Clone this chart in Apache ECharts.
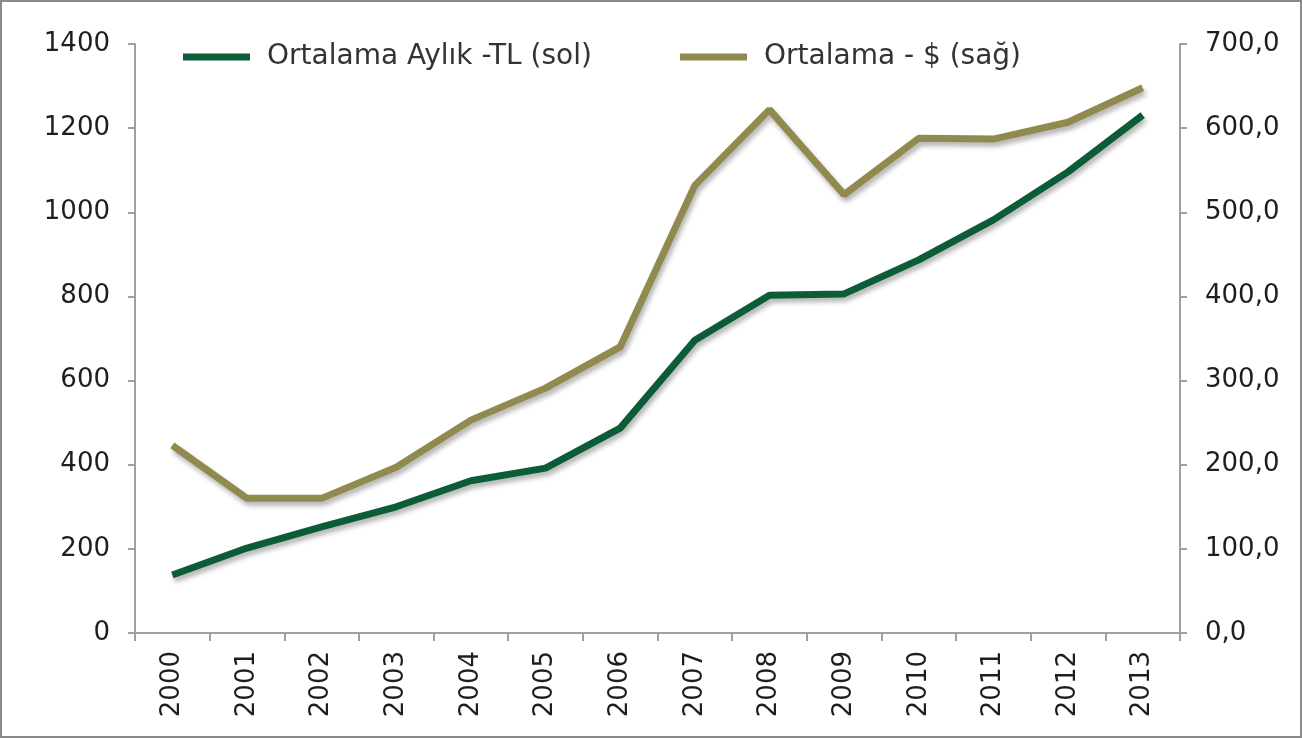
<!DOCTYPE html>
<html>
<head>
<meta charset="utf-8">
<script src="https://cdn.jsdelivr.net/npm/echarts@6/dist/echarts.min.js"></script>
<style>
  html, body { margin: 0; padding: 0; background: #fff; }
  #main { width: 1302px; height: 738px; box-sizing: border-box; border: 2px solid #8a8a8a; }
</style>
</head>
<body>
<div id="main"></div>
<script>
const years = ['2000','2001','2002','2003','2004','2005','2006','2007','2008','2009','2010','2011','2012','2013'];
const tlValues = [138, 202, 252, 300, 362, 392, 487, 696, 803, 806, 887, 982, 1096, 1231];
const usdValues = [223, 160, 160, 197, 253, 291, 340, 532, 622, 521, 588, 587, 607, 648];
const tlName = 'Ortalama Aylık -TL (sol)';
const usdName = 'Ortalama - $ (sağ)';

const font = 'DejaVu Sans';
const axisGray = '#a0a0a0';
const labelColor = '#1e1e1e';

function legendAt(left, name) {
  return {
    top: 36,
    left: left,
    itemWidth: 67,
    itemHeight: 7,
    icon: 'rect',
    textStyle: { fontSize: 28, color: '#333', fontFamily: font, padding: [0, 0, 0, 12] },
    data: [name]
  };
}

const chart = echarts.init(document.getElementById('main'));
chart.setOption({
  animation: false,
  textStyle: { fontFamily: font },
  grid: { left: 133, right: 120, top: 42, bottom: 103 },
  legend: [legendAt(176, tlName), legendAt(673, usdName)],
  xAxis: {
    type: 'category',
    data: years,
    boundaryGap: true,
    axisLine: { lineStyle: { color: axisGray, width: 2 } },
    axisTick: { show: true, length: 8, lineStyle: { color: axisGray, width: 2 } },
    axisLabel: { rotate: 90, fontSize: 26, color: labelColor, margin: 18, fontFamily: font }
  },
  yAxis: [
    {
      type: 'value', min: 0, max: 1400, interval: 200,
      splitLine: { show: false },
      axisLine: { show: true, lineStyle: { color: axisGray, width: 2 } },
      axisTick: { show: true, length: 7, lineStyle: { color: axisGray, width: 2 } },
      axisLabel: { fontSize: 26, color: labelColor, margin: 25, fontFamily: font,
        formatter: v => String(v) }
    },
    {
      type: 'value', min: 0, max: 700, interval: 100,
      splitLine: { show: false },
      axisLine: { show: true, lineStyle: { color: axisGray, width: 2 } },
      axisTick: { show: true, length: 7, lineStyle: { color: axisGray, width: 2 } },
      axisLabel: { fontSize: 26, color: labelColor, margin: 25, fontFamily: font,
        formatter: v => v.toFixed(1).replace('.', ',') }
    }
  ],
  series: [
    {
      name: tlName, type: 'line', yAxisIndex: 0, data: tlValues,
      symbol: 'none', color: '#0c5c38',
      lineStyle: { width: 7, color: '#0c5c38', shadowColor: 'rgba(0,0,0,0.3)', shadowBlur: 5, shadowOffsetX: 2, shadowOffsetY: 4 }
    },
    {
      name: usdName, type: 'line', yAxisIndex: 1, data: usdValues,
      symbol: 'none', color: '#908a4f',
      lineStyle: { width: 7, color: '#908a4f', shadowColor: 'rgba(0,0,0,0.3)', shadowBlur: 5, shadowOffsetX: 2, shadowOffsetY: 4 }
    }
  ]
});
</script>
</body>
</html>
